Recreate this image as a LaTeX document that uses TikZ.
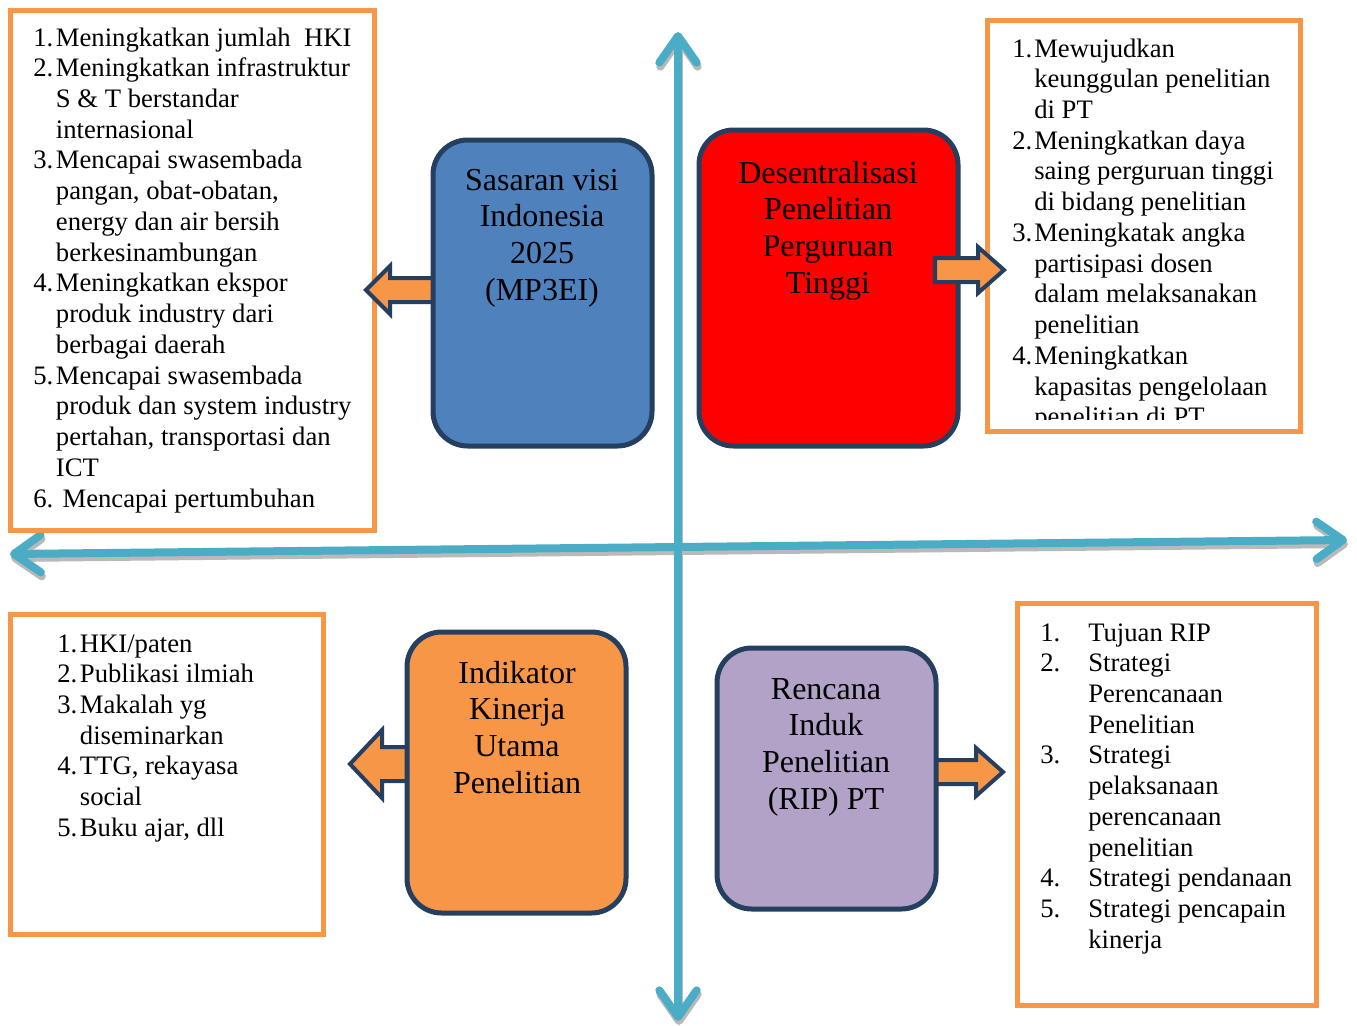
\documentclass[tikz,border=0pt]{standalone}
\usepackage{fontspec}
\setmainfont{Liberation Serif}
\usetikzlibrary{arrows.meta,fit}

\definecolor{axisblue}{HTML}{4BACC6}
\definecolor{boxorange}{HTML}{F79646}
\definecolor{cardline}{HTML}{243F60}
\definecolor{cardblue}{HTML}{4F81BD}
\definecolor{cardred}{HTML}{FF0000}
\definecolor{cardpurple}{HTML}{B2A2C7}

\tikzset{
  listbox/.style={draw=boxorange, line width=3.75pt, inner sep=0pt},
  card/.style={draw=cardline, line width=3.75pt, rounded corners=26pt, inner sep=0pt},
  listtext/.style={anchor=base west, inner sep=0pt, font=\fontsize{20}{23.06}\selectfont},
  cardtext/.style={anchor=base, inner sep=0pt, font=\fontsize{24}{27.5}\selectfont},
  barrow/.style={draw=cardline, fill=boxorange, line width=3pt, line join=miter},
  axistip/.tip={Straight Barb[length=20pt, width=28pt, round]},
  axis/.style={line width=6pt, draw=axisblue, line cap=round, axistip-axistip},
  axisshadow/.style={axis, draw=gray!55, transform canvas={shift={(0.75pt,-3pt)}}}
}

\begin{document}
\begin{tikzpicture}[x=0.75pt, y=-0.75pt]
\useasboundingbox (0,0) rectangle (1357,1025);

% axes
\coordinate (top) at (678,32);
\coordinate (bottom) at (678,1021);
\coordinate (left) at (10,554);
\coordinate (right) at (1347,540);
\draw[axisshadow] (bottom) -- (top);
\draw[axisshadow] (left) -- (right);
\draw[axis] (bottom) -- (top);
\draw[axis] (left) -- (right);

% list boxes
\node[listbox, fit={(10,10) (374,530)}] (listTL) {};
\node[listbox, fit={(987,20) (1300,431)}] (listTR) {};
\node[listbox, fit={(10,614) (323,934)}] (listBL) {};
\node[listbox, fit={(1017,603) (1316,1005)}] (listBR) {};

\node[listtext] (itemsTL) at (33,46) {\begin{tabular}[t]{@{}p{17pt}@{}l@{}}
1. & Meningkatkan jumlah\ \ HKI\\
2. & Meningkatkan infrastruktur\\
   & S \& T berstandar\\
   & internasional\\
3. & Mencapai swasembada\\
   & pangan, obat-obatan,\\
   & energy dan air bersih\\
   & berkesinambungan\\
4. & Meningkatkan ekspor\\
   & produk industry dari\\
   & berbagai daerah\\
5. & Mencapai swasembada\\
   & produk dan system industry\\
   & pertahan, transportasi dan\\
   & ICT\\
6. & \ Mencapai pertumbuhan
\end{tabular}};

\begin{scope}
\clip (987,20) rectangle (1300,419);
\node[listtext] (itemsTR) at (1012,57) {\begin{tabular}[t]{@{}p{16.5pt}@{}l@{}}
1. & Mewujudkan\\
   & keunggulan penelitian\\
   & di PT\\
2. & Meningkatkan daya\\
   & saing perguruan tinggi\\
   & di bidang penelitian\\
3. & Meningkatak angka\\
   & partisipasi dosen\\
   & dalam melaksanakan\\
   & penelitian\\
4. & Meningkatkan\\
   & kapasitas pengelolaan\\
   & penelitian di PT
\end{tabular}};
\end{scope}

\node[listtext] (itemsBL) at (57,652) {\begin{tabular}[t]{@{}p{17pt}@{}l@{}}
1. & HKI/paten\\
2. & Publikasi ilmiah\\
3. & Makalah yg\\
   & diseminarkan\\
4. & TTG, rekayasa\\
   & social\\
5. & Buku ajar, dll
\end{tabular}};

\node[listtext] (itemsBR) at (1040,641) {\begin{tabular}[t]{@{}p{36pt}@{}l@{}}
1. & Tujuan RIP\\
2. & Strategi\\
   & Perencanaan\\
   & Penelitian\\
3. & Strategi\\
   & pelaksanaan\\
   & perencanaan\\
   & penelitian\\
4. & Strategi pendanaan\\
5. & Strategi pencapain\\
   & kinerja
\end{tabular}};

% block arrows under the cards
\draw[barrow] (440,278) -- (390,278) -- (390,266) -- (366,290) -- (390,314) -- (390,302) -- (440,302) -- cycle;
\draw[barrow] (415,747) -- (382,747) -- (382,730) -- (350,764) -- (382,798) -- (382,781) -- (415,781) -- cycle;
\draw[barrow] (928,760) -- (976,760) -- (976,748) -- (1003,772) -- (976,796) -- (976,784) -- (928,784) -- cycle;

% cards
\node[card, fill=cardblue, fit={(433,140) (652,446)}] (sasaran) {};
\node[card, fill=cardred, fit={(699,130) (958,446)}] (desentral) {};
\node[card, fill=boxorange, fit={(407,632) (626,913)}] (indikator) {};
\node[card, fill=cardpurple, fit={(717,648) (936,909)}] (rip) {};

\draw[barrow] (935,258) -- (978,258) -- (978,247) -- (1004,270) -- (978,293) -- (978,282) -- (935,282) -- cycle;

\node[cardtext] (sasaranText) at (542,190) {\begin{tabular}[t]{@{}c@{}}
Sasaran visi\\ Indonesia\\ 2025\\ (MP3EI)\end{tabular}};
\node[cardtext] (desentralText) at (828,183) {\begin{tabular}[t]{@{}c@{}}
Desentralisasi\\ Penelitian\\ Perguruan\\ Tinggi\end{tabular}};
\node[cardtext] (indikatorText) at (517,683) {\begin{tabular}[t]{@{}c@{}}
Indikator\\ Kinerja\\ Utama\\ Penelitian\end{tabular}};
\node[cardtext] (ripText) at (826,699) {\begin{tabular}[t]{@{}c@{}}
Rencana\\ Induk\\ Penelitian\\ (RIP) PT\end{tabular}};
\end{tikzpicture}
\end{document}
